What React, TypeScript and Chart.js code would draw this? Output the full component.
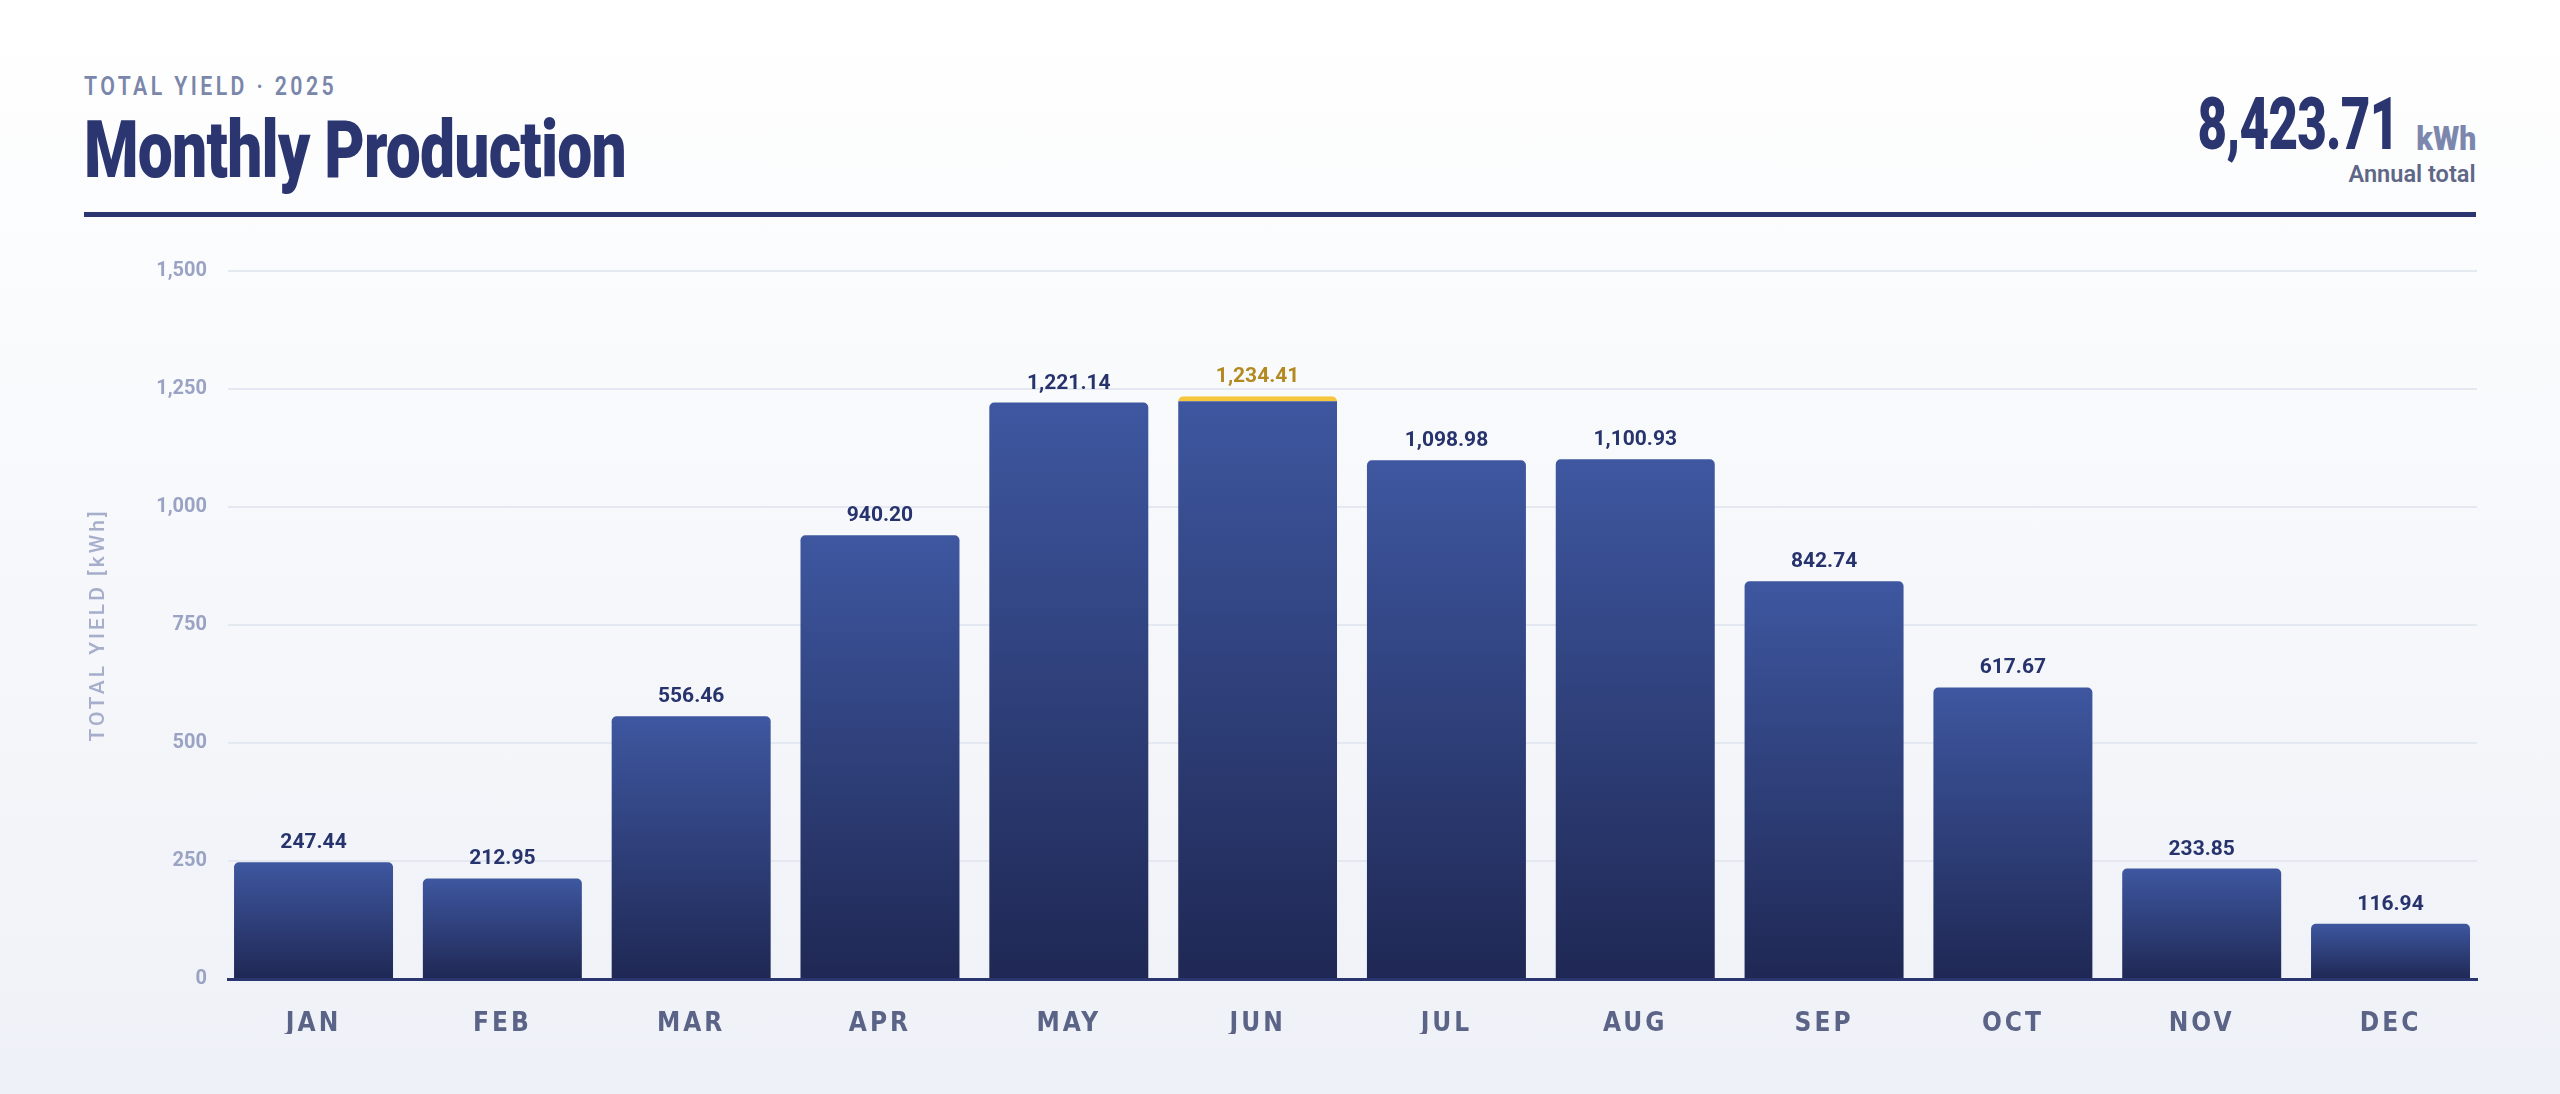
import { useEffect, useLayoutEffect, useRef } from "react";
import { Chart, registerables } from "chart.js";

Chart.register(...registerables);

const months = ["JAN", "FEB", "MAR", "APR", "MAY", "JUN", "JUL", "AUG", "SEP", "OCT", "NOV", "DEC"];
const yieldKwh = [247.44, 212.95, 556.46, 940.2, 1221.14, 1234.41, 1098.98, 1100.93, 842.74, 617.67, 233.85, 116.94];
const yTicks = [0, 250, 500, 750, 1000, 1250, 1500];

const NAVY = "#2b3671";
const BAR_TOP = "#3e57a0";
const BAR_BOTTOM = "#1f2854";
const GOLD = "#f6c63c";
const GOLD_TEXT = "#b38a1f";
const CONDENSED = "'DejaVu Sans Condensed', sans-serif";

const fmt = (v: number) =>
  v.toLocaleString("en-US", { minimumFractionDigits: 2, maximumFractionDigits: 2 });

const total = yieldKwh.reduce((a, b) => a + b, 0);
const peakIndex = yieldKwh.indexOf(Math.max(...yieldKwh));

// value labels over the bars + spaced x labels + y title
const barLabels = {
  id: "barLabels",
  afterDatasetsDraw(chart: any) {
    const ctx = chart.ctx;
    const meta = chart.getDatasetMeta(0);
    ctx.save();
    ctx.font = "bold 21px Roboto";
    ctx.textAlign = "center";
    ctx.textBaseline = "alphabetic";
    meta.data.forEach((bar: any, i: number) => {
      ctx.fillStyle = i === peakIndex ? GOLD_TEXT : "#27336c";
      ctx.fillText(fmt(yieldKwh[i]), bar.x, bar.y - 14);
    });
    ctx.restore();
    // x tick labels are drawn after this (ticks z: 1)
    ctx.letterSpacing = "3px";
  },
  afterDraw(chart: any) {
    const ctx = chart.ctx;
    ctx.letterSpacing = "0px";
    const area = chart.chartArea;
    ctx.save();
    ctx.translate(99, (area.top + area.bottom) / 2);
    ctx.rotate(-Math.PI / 2);
    ctx.letterSpacing = "3px";
    ctx.font = "500 21px Roboto";
    ctx.fillStyle = "#a6aecb";
    ctx.textAlign = "center";
    ctx.textBaseline = "middle";
    ctx.fillText("TOTAL YIELD [kWh]", 0, 0);
    ctx.restore();
    ctx.letterSpacing = "0px";
  },
};

// squeezes a line of text horizontally to a given width (stand-in for a condensed face)
function Squeeze({ width, origin, style, children }: any) {
  const ref = useRef<HTMLDivElement | null>(null);
  useLayoutEffect(() => {
    const el = ref.current;
    if (!el) return;
    el.style.transform = "none";
    const w = el.getBoundingClientRect().width;
    if (w > 0) el.style.transform = `scaleX(${width / w})`;
  }, [width]);
  return (
    <div
      ref={ref}
      style={{
        position: "absolute",
        whiteSpace: "nowrap",
        lineHeight: 1,
        fontFamily: "Roboto",
        fontWeight: 700,
        transformOrigin: origin,
        ...style,
      }}
    >
      {children}
    </div>
  );
}

function ProductionChart() {
  const canvasRef = useRef<HTMLCanvasElement | null>(null);

  useEffect(() => {
    if (!canvasRef.current) return;
    const chart = new Chart(canvasRef.current, {
      type: "bar",
      data: {
        datasets: [
          {
            data: yieldKwh.map((v, i) => ({ x: i, y: v })),
            backgroundColor: (c: any) => {
              const y = c.chart.scales?.y;
              if (!y || c.type !== "data") return BAR_TOP;
              const top = y.getPixelForValue(c.raw.y);
              const base = y.getPixelForValue(0);
              if (!isFinite(top) || !isFinite(base)) return BAR_TOP;
              const g = c.chart.ctx.createLinearGradient(0, top, 0, base);
              g.addColorStop(0, BAR_TOP);
              g.addColorStop(1, BAR_BOTTOM);
              return g;
            },
            borderColor: GOLD,
            borderWidth: (c: any) =>
              c.dataIndex === peakIndex ? { top: 5, left: 0, right: 0, bottom: 0 } : 0,
            borderRadius: 5,
            borderSkipped: "start",
            barPercentage: 0.842,
            categoryPercentage: 1,
          },
        ],
      },
      options: {
        animation: false,
        responsive: true,
        maintainAspectRatio: false,
        layout: { padding: { top: 41, left: 153, right: 83, bottom: 60 } },
        plugins: {
          legend: { display: false },
          tooltip: { enabled: false },
        },
        scales: {
          x: {
            type: "linear",
            offset: false,
            min: -0.453,
            max: 11.458,
            afterBuildTicks: (s: any) => {
              s.ticks = months.map((_, i) => ({ value: i }));
            },
            grid: { display: false, offset: false },
            border: { display: true, color: NAVY, width: 3, z: 1 },
            ticks: {
              z: 1,
              autoSkip: false,
              maxRotation: 0,
              color: "#5b6487",
              padding: 22,
              font: { family: CONDENSED, size: 26, weight: "bold" },
              callback: (v: any) => months[v],
            },
            afterFit: (s: any) => {
              s.height = 55;
            },
          },
          y: {
            min: 0,
            max: 1500,
            afterBuildTicks: (s: any) => {
              s.ticks = yTicks.map((v) => ({ value: v }));
            },
            grid: { color: "#e4e8f1", lineWidth: 2, drawTicks: false },
            border: { display: false },
            ticks: {
              color: "#9aa3c3",
              padding: 21,
              font: { family: "Roboto", size: 20, weight: "bold" },
            },
            afterFit: (s: any) => {
              s.width = 75;
            },
          },
        },
      },
      plugins: [barLabels],
    });
    return () => chart.destroy();
  }, []);

  return (
    <div style={{ position: "absolute", left: 0, top: 230, width: 2560, height: 864 }}>
      <canvas ref={canvasRef} />
    </div>
  );
}

export default function App() {
  return (
    <div
      style={{
        position: "relative",
        width: 2560,
        height: 1094,
        overflow: "hidden",
        background: "linear-gradient(180deg, #ffffff 0%, #eef1f7 100%)",
      }}
    >
      <style>{`body { margin: 0; }`}</style>
      <Squeeze
        width={253}
        origin="left"
        style={{ left: 84, top: 74, fontSize: 25, letterSpacing: "4px", color: "#7b86ab", fontWeight: 600 }}
      >
        TOTAL YIELD · 2025
      </Squeeze>
      <Squeeze
        width={542}
        origin="left"
        style={{ left: 84, top: 111, fontSize: 79, letterSpacing: "-1px", color: NAVY, fontWeight: 900 }}
      >
        Monthly Production
      </Squeeze>
      <Squeeze
        width={201}
        origin="right"
        style={{ right: 161, top: 89, fontSize: 72, letterSpacing: "-1px", color: NAVY, fontWeight: 900 }}
      >
        {fmt(total)}
      </Squeeze>
      <Squeeze
        width={60}
        origin="right"
        style={{ right: 84, top: 122, fontSize: 33, color: "#7b87ad", fontWeight: 900 }}
      >
        kWh
      </Squeeze>
      <Squeeze
        width={127}
        origin="right"
        style={{ right: 84, top: 162, fontSize: 24, color: "#5e6787", fontWeight: 600 }}
      >
        Annual total
      </Squeeze>
      <div
        style={{
          position: "absolute",
          left: 84,
          right: 84,
          top: 212,
          height: 5,
          background: NAVY,
        }}
      />
      <ProductionChart />
    </div>
  );
}
